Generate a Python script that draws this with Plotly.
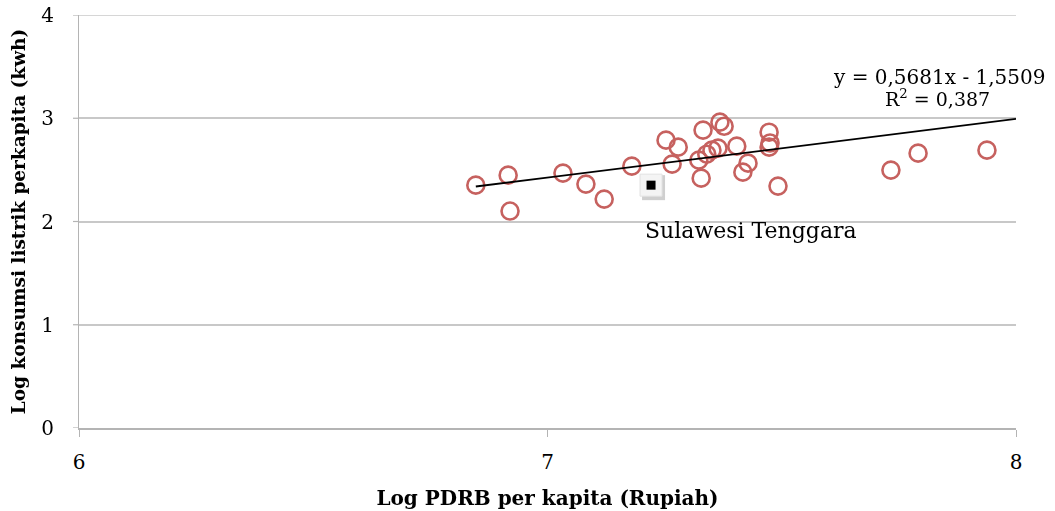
import plotly.graph_objects as go

# Log GDRP per capita (x) vs log electricity consumption per capita (y), by province
log_pdrb = [6.847, 6.916, 6.920, 7.033, 7.082, 7.121, 7.180, 7.253, 7.266, 7.279,
            7.332, 7.328, 7.323, 7.340, 7.351, 7.364, 7.368, 7.377, 7.404, 7.417,
            7.428, 7.473, 7.473, 7.475, 7.492, 7.733, 7.791, 7.938]
log_listrik = [2.352, 2.449, 2.101, 2.469, 2.362, 2.217, 2.536, 2.788, 2.556, 2.720,
               2.885, 2.420, 2.594, 2.652, 2.691, 2.711, 2.962, 2.923, 2.730, 2.478,
               2.565, 2.865, 2.720, 2.760, 2.343, 2.498, 2.662, 2.691]

# Highlighted province
sultra_x = [7.221]
sultra_y = [2.352]
sultra_label = "Sulawesi Tenggara"

# Linear trend line
slope, intercept = 0.5681, -1.5509
r2 = 0.387
trend_x = [min(log_pdrb), 8.0]
trend_y = [slope * v + intercept for v in trend_x]

x_ticks = [6, 7, 8]
y_ticks = [0, 1, 2, 3, 4]

serif = "DejaVu Serif, Liberation Serif, serif"
red = "#c0504d"
axis_grey = "#b4b4b4"
grid_grey = "#c8c8c8"

fig = go.Figure()

fig.add_trace(go.Scatter(
    x=log_pdrb, y=log_listrik, mode="markers",
    marker=dict(symbol="circle-open", size=17, color=red, line=dict(width=2.6, color=red)),
    opacity=0.9, showlegend=False, hoverinfo="x+y",
))

fig.add_trace(go.Scatter(
    x=trend_x, y=trend_y, mode="lines",
    line=dict(color="black", width=1.8), showlegend=False, hoverinfo="skip",
))

# Top border gridline at the upper end of the value axis
fig.add_shape(type="line", xref="paper", yref="y", x0=0, x1=1, y0=y_ticks[-1], y1=y_ticks[-1],
              line=dict(color=grid_grey, width=1.5), layer="below")

# Short tick stubs to the left of the value axis
for v in y_ticks:
    fig.add_shape(type="line", xref="paper", yref="y", xsizemode="pixel", xanchor=0,
                  x0=-6, x1=0, y0=v, y1=v, line=dict(color=axis_grey, width=1.2))

# Shadow behind the highlighted marker box
fig.add_shape(type="rect", xref="x", yref="y", xsizemode="pixel", ysizemode="pixel",
              xanchor=sultra_x[0], yanchor=sultra_y[0],
              x0=-9, x1=14, y0=-15, y1=10,
              fillcolor="#cfcfcf", line=dict(width=0), layer="below")

fig.add_trace(go.Scatter(
    x=sultra_x, y=sultra_y, mode="markers",
    marker=dict(symbol="square", size=22, color="#f4f4f4", line=dict(width=1, color="#e2e2e2")),
    showlegend=False, hoverinfo="skip",
))
fig.add_trace(go.Scatter(
    x=sultra_x, y=sultra_y, mode="markers",
    marker=dict(symbol="square", size=9, color="black"),
    showlegend=False, hoverinfo="skip",
))

fig.add_annotation(
    x=sultra_x[0], y=sultra_y[0], text=sultra_label, showarrow=False,
    xanchor="left", yanchor="middle", xshift=-8, yshift=-45,
    font=dict(family=serif, size=22, color="black"),
)

fig.add_annotation(
    x=8.0, y=trend_y[1], text=f"y = {slope:.4f}x - {abs(intercept):.4f}".replace(".", ","),
    showarrow=False, xanchor="right", yanchor="middle", xshift=31, yshift=42,
    font=dict(family=serif, size=20, color="black"),
)
fig.add_annotation(
    x=8.0, y=trend_y[1], text=f"R<sup>2</sup> = {r2:.3f}".replace(".", ","),
    showarrow=False, xanchor="center", yanchor="middle", xshift=-79, yshift=21,
    font=dict(family=serif, size=19, color="black"),
)

fig.update_layout(
    width=1055, height=511,
    margin=dict(l=79, r=39, t=15, b=83),
    paper_bgcolor="white", plot_bgcolor="white",
    font=dict(family=serif, color="black"),
    xaxis=dict(
        range=[6, 8], tickvals=x_ticks, ticks="outside", ticklen=7, tickcolor=axis_grey,
        tickfont=dict(size=20, family=serif), ticklabelstandoff=8,
        showgrid=False, zeroline=False,
        showline=True, linecolor=axis_grey, linewidth=1.5,
        automargin=False,
        title=dict(text="<b>Log PDRB per kapita (Rupiah)</b>", font=dict(size=20, family=serif), standoff=18),
    ),
    yaxis=dict(
        range=[0, 4], tickvals=y_ticks, ticks="outside", ticklen=20, tickcolor="rgba(0,0,0,0)",
        tickfont=dict(size=20, family=serif),
        showgrid=True, gridcolor=grid_grey, gridwidth=1.5,
        zeroline=False, showline=True, linecolor=axis_grey, linewidth=1,
        automargin=False,
        title=dict(text="<b>Log konsumsi listrik perkapita (kwh)</b>", font=dict(size=18.5, family=serif), standoff=10),
    ),
)

fig.write_html("out.html")
